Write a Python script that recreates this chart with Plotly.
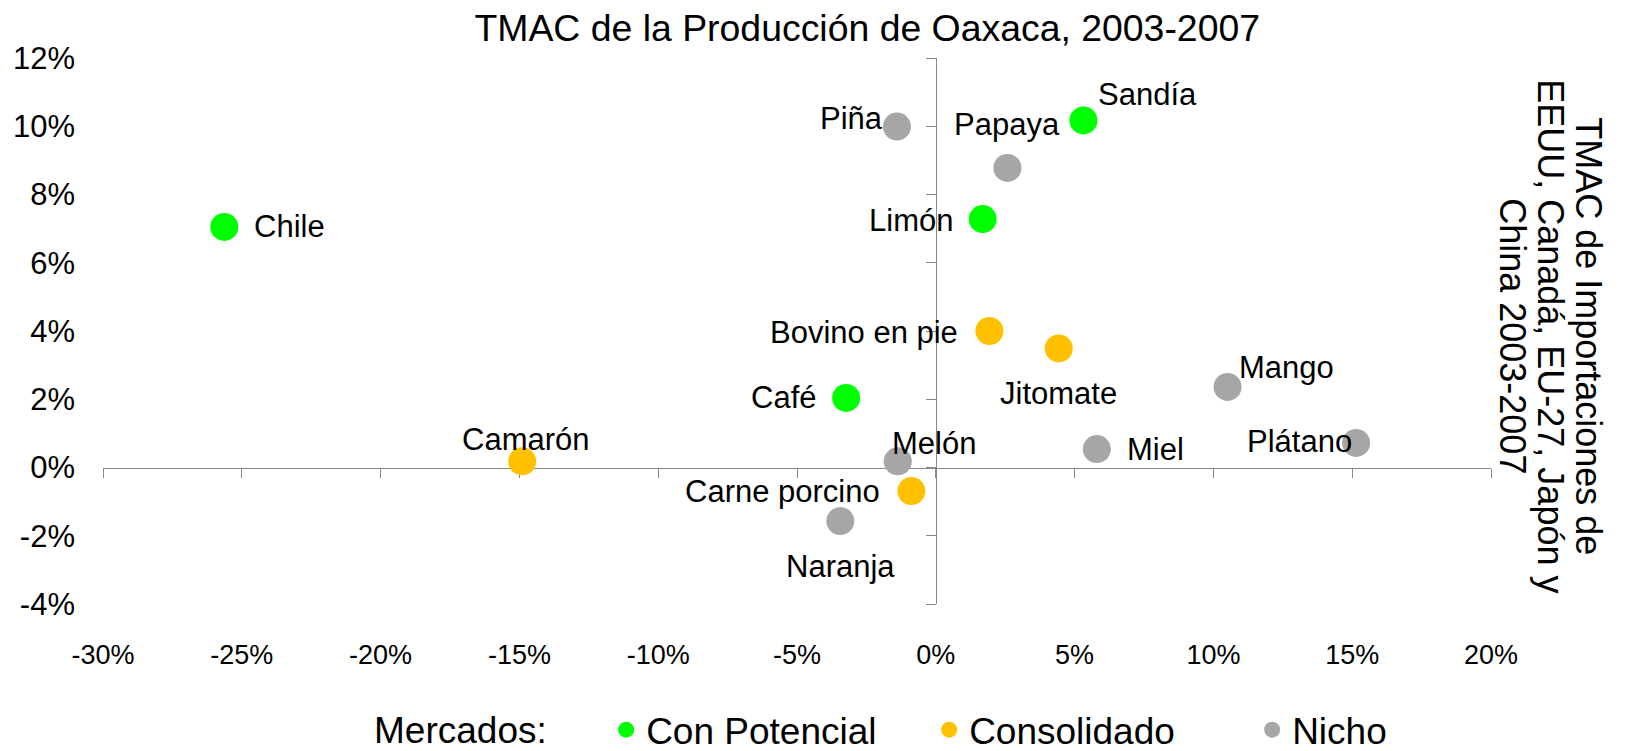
import plotly.graph_objects as go

# ---------------- Data (TMAC, in %) ----------------
market_names = ["Con Potencial", "Consolidado", "Nicho"]

con_potencial_labels = ["Chile", "Sandía", "Limón", "Café"]
con_potencial_x = [-25.63, 5.32, 1.69, -3.23]   # TMAC producción Oaxaca
con_potencial_y = [7.05, 10.17, 7.28, 2.04]     # TMAC importaciones

consolidado_labels = ["Bovino en pie", "Jitomate", "Carne porcino", "Camarón"]
consolidado_x = [1.93, 4.43, -0.88, -14.90]
consolidado_y = [4.00, 3.49, -0.69, 0.18]

nicho_labels = ["Piña", "Papaya", "Mango", "Melón", "Miel", "Plátano", "Naranja"]
nicho_x = [-1.40, 2.58, 10.51, -1.37, 5.80, 15.14, -3.44]
nicho_y = [9.99, 8.78, 2.36, 0.18, 0.54, 0.72, -1.57]

x_tick_values = [-30, -25, -20, -15, -10, -5, 0, 5, 10, 15, 20]
x_tick_labels = ["-30%", "-25%", "-20%", "-15%", "-10%", "-5%", "0%", "5%", "10%", "15%", "20%"]
y_tick_values = [-4, -2, 0, 2, 4, 6, 8, 10, 12]
y_tick_labels = ["-4%", "-2%", "0%", "2%", "4%", "6%", "8%", "10%", "12%"]

chart_title = "TMAC de la Producción de Oaxaca, 2003-2007"
y_title_lines = ["TMAC de Importaciones de", "EEUU, Canadá, EU-27, Japón y", "China 2003-2007"]
legend_title = "Mercados:"

# ---------------- Styles ----------------
FONT = "Liberation Sans, Arial, Helvetica, sans-serif"
colors = {"Con Potencial": "#00FF00", "Consolidado": "#FFC000", "Nicho": "#A6A6A6"}
AXIS_COLOR = "#888888"
X_RANGE = [-30, 20]
Y_RANGE = [-4, 12]
LEGEND_Y = -0.231

# label placement: (xanchor, xshift px, yshift px)
label_style = {
    "Chile": ("left", 30, 0),
    "Piña": ("right", -14, 8),
    "Papaya": ("center", 0, 43),
    "Sandía": ("left", 15, 26),
    "Limón": ("right", -30, -1),
    "Bovino en pie": ("right", -31, -1),
    "Jitomate": ("center", 0, -45),
    "Mango": ("left", 11, 19),
    "Café": ("right", -30, 0),
    "Melón": ("left", -6, 18),
    "Carne porcino": ("right", -31, 0),
    "Naranja": ("center", 0, -45),
    "Camarón": ("center", 4, 22),
    "Miel": ("left", 30, 0),
    "Plátano": ("right", -4, 1),
}

groups = [
    ("Con Potencial", con_potencial_labels, con_potencial_x, con_potencial_y),
    ("Consolidado", consolidado_labels, consolidado_x, consolidado_y),
    ("Nicho", nicho_labels, nicho_x, nicho_y),
]

fig = go.Figure()
annotations = []
for market, labels, xs, ys in groups:
    fig.add_trace(go.Scatter(
        x=xs, y=ys, mode="markers", name=market, text=labels,
        marker=dict(size=28, color=colors[market], line=dict(width=0)),
        hovertemplate="%{text}: (%{x}%, %{y}%)<extra></extra>",
        xaxis="x", yaxis="y",
    ))
    # invisible copy so the label-axes overlay is drawn
    fig.add_trace(go.Scatter(
        x=xs, y=ys, mode="markers", showlegend=False, hoverinfo="skip",
        marker=dict(size=1, opacity=0), xaxis="x2", yaxis="y2",
    ))
    for name, xv, yv in zip(labels, xs, ys):
        anchor, dx, dy = label_style[name]
        annotations.append(dict(
            x=xv, y=yv, xref="x", yref="y", text=name, showarrow=False,
            xanchor=anchor, yanchor="middle", xshift=dx, yshift=dy,
            borderpad=0, borderwidth=0,
            font=dict(family=FONT, size=31, color="black"),
        ))

# rotated secondary title at right (one annotation per line)
line_shifts = [38, 0, -38]
for line, shift in zip(y_title_lines, line_shifts):
    annotations.append(dict(
        x=1.0427, y=0.49, xref="paper", yref="paper", text=line, showarrow=False,
        textangle=90, xanchor="center", yanchor="middle", xshift=shift,
        borderpad=0, font=dict(family=FONT, size=36, color="black"),
    ))

# legend heading
annotations.append(dict(
    x=0.1946, y=LEGEND_Y, xref="paper", yref="paper", text=legend_title,
    showarrow=False, xanchor="left", yanchor="middle", borderpad=0,
    font=dict(family=FONT, size=37, color="black"),
))

x_zero_pos = (0 - Y_RANGE[0]) / (Y_RANGE[1] - Y_RANGE[0])
y_zero_pos = (0 - X_RANGE[0]) / (X_RANGE[1] - X_RANGE[0])

fig.update_layout(
    width=1634, height=751,
    margin=dict(l=103, r=143, t=58, b=147, autoexpand=False),
    paper_bgcolor="white", plot_bgcolor="white",
    font=dict(family=FONT, color="black"),
    title=dict(text=chart_title, x=0.5506, xref="paper", xanchor="center",
               y=1 - 28 / 751, yref="container", yanchor="middle",
               font=dict(family=FONT, size=37.4, color="black")),
    showlegend=True,
    legend=dict(orientation="h", x=0.3625, xanchor="left", y=LEGEND_Y, yanchor="middle",
                font=dict(family=FONT, size=37, color="black"),
                entrywidth=278, itemsizing="trace", bgcolor="rgba(0,0,0,0)"),
    # axes lines crossing at zero, with tick marks
    xaxis=dict(range=X_RANGE, anchor="free", position=x_zero_pos, showline=True,
               linecolor=AXIS_COLOR, linewidth=1.3, ticks="outside", ticklen=9,
               tickwidth=1.3, tickcolor=AXIS_COLOR, tickvals=x_tick_values,
               showticklabels=False, showgrid=False, zeroline=False,
               layer="below traces", fixedrange=True, automargin=False),
    yaxis=dict(range=Y_RANGE, anchor="free", position=y_zero_pos, showline=True,
               linecolor=AXIS_COLOR, linewidth=1.3, ticks="outside", ticklen=10,
               tickwidth=1.3, tickcolor=AXIS_COLOR, tickvals=y_tick_values,
               showticklabels=False, showgrid=False, zeroline=False,
               layer="below traces", fixedrange=True, automargin=False),
    # label axes at the plot edges
    xaxis2=dict(range=X_RANGE, overlaying="x", anchor="y2", side="bottom",
                showline=False, ticks="", tickvals=x_tick_values, ticktext=x_tick_labels,
                tickfont=dict(family=FONT, size=27, color="black"),
                ticklabelstandoff=32, showgrid=False, zeroline=False,
                fixedrange=True, automargin=False),
    yaxis2=dict(range=Y_RANGE, overlaying="y", anchor="x2", side="left",
                showline=False, ticks="", tickvals=y_tick_values, ticktext=y_tick_labels,
                tickfont=dict(family=FONT, size=31, color="black"),
                ticklabelstandoff=27, showgrid=False, zeroline=False,
                fixedrange=True, automargin=False),
    annotations=annotations,
)

fig.write_html("out.html", config={"displayModeBar": False},
               post_script="document.body.style.margin='0px';")
